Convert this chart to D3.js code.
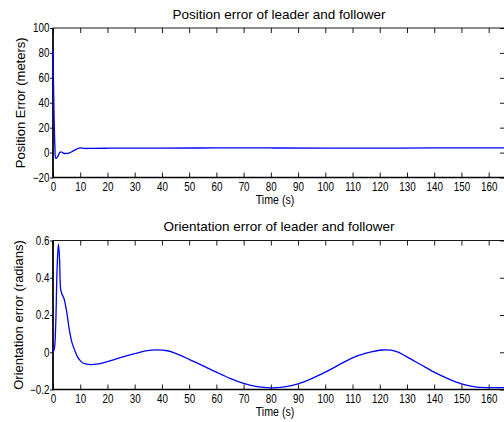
<!DOCTYPE html>
<html><head><meta charset="utf-8">
<script src="https://cdn.jsdelivr.net/npm/d3@7"></script>
<style>
html,body{margin:0;padding:0;background:#fff;}
svg{display:block;}
text{font-family:"Liberation Sans",Arial,Helvetica,sans-serif;fill:#000;}
</style></head>
<body>
<svg id="chart" width="504" height="422"></svg>
<script>
// ---- data ----
const timeDomain = [0, 166];
const xTicks = [0,10,20,30,40,50,60,70,80,90,100,110,120,130,140,150,160];

const posTitle = "Position error of leader and follower";
const posYLabel = "Position Error (meters)";
const posYTicks = [-20,0,20,40,60,80,100];
const posTime = [0,0.3,0.7,1,1.5,2,2.5,3,3.5,4,5,6,7,8,9,10,11,12,14,20,30,40,60,80,100,120,140,166];
const posErr  = [82,40,5,-4.5,-4,-2,0,0.6,0,-0.6,-0.7,-0.2,0.8,2,3.2,3.8,3.5,3.3,3.4,3.5,3.6,3.6,3.7,3.7,3.6,3.6,3.7,3.7];

const oriTitle = "Orientation error of leader and follower";
const oriYLabel = "Orientation error (radians)";
const oriYTicks = [-0.2,0,0.2,0.4,0.6];
const oriTime = [0,0.5,1,1.5,2,2.4,2.8,3.2,4,5,6,7,8,9,10,11,12,14,16,18,20,25,30,34,38,42,45,50,55,60,65,70,75,80,85,90,95,100,105,110,115,121,126,130,135,140,145,150,155,160,163,166];
const oriErr  = [0,0.02,0.15,0.45,0.58,0.5,0.34,0.315,0.29,0.22,0.12,0.05,0.01,-0.025,-0.045,-0.058,-0.063,-0.066,-0.064,-0.058,-0.05,-0.028,-0.008,0.007,0.013,0.008,-0.006,-0.038,-0.072,-0.107,-0.14,-0.167,-0.185,-0.191,-0.186,-0.17,-0.142,-0.107,-0.068,-0.03,-0.005,0.012,0.005,-0.025,-0.066,-0.107,-0.142,-0.17,-0.186,-0.19,-0.19,-0.19];

const xLabel = "Time (s)";

// ---- drawing ----
const svg = d3.select("#chart");
const left = 53, right = 505;

function panel(cfg){
  const {top, bottom, yDomain, yTicks, fmt, times, vals, title, ylabel} = cfg;
  const x = d3.scaleLinear().domain(timeDomain).range([left, right]);
  const y = d3.scaleLinear().domain(yDomain).range([bottom, top]);
  const g = svg.append("g");

  // frame
  g.append("rect").attr("x",left).attr("y",top).attr("width",right-left).attr("height",bottom-top)
    .attr("fill","none").attr("stroke","#000").attr("stroke-width",0.9);

  // bottom axis (inward ticks)
  const xb = g.append("g").attr("transform",`translate(0,${bottom})`)
    .call(d3.axisBottom(x).tickValues(xTicks).tickSize(-5).tickPadding(4.5).tickFormat(d3.format("d")));
  // top ticks
  g.append("g").attr("transform",`translate(0,${top})`)
    .call(d3.axisTop(x).tickValues(xTicks).tickSize(-5).tickFormat(""));
  // left axis (short outward ticks)
  const yl = g.append("g").attr("transform",`translate(${left},0)`)
    .call(d3.axisLeft(y).tickValues(yTicks).tickSize(3).tickPadding(1).tickFormat(fmt));
  // right ticks (inward)
  g.append("g").attr("transform",`translate(${right},0)`)
    .call(d3.axisRight(y).tickValues(yTicks).tickSize(-5).tickFormat(""));

  g.selectAll(".domain").remove();
  g.selectAll(".tick line").attr("stroke","#000").attr("stroke-width",0.9);
  g.selectAll(".tick text").attr("font-size",12).attr("fill","#000")
    .attr("font-family",'"Liberation Sans",Arial,sans-serif');
  xb.selectAll(".tick text").attr("transform","scale(0.82,1)");
  yl.selectAll(".tick text").attr("x",-3.5/0.82).attr("transform","scale(0.82,1)");

  // thicker left and bottom axis lines
  g.append("line").attr("x1",left).attr("x2",left).attr("y1",top).attr("y2",bottom+0.75)
    .attr("stroke","#000").attr("stroke-width",1.6);
  g.append("line").attr("x1",left).attr("x2",right).attr("y1",bottom).attr("y2",bottom)
    .attr("stroke","#000").attr("stroke-width",1.4);

  // line
  const line = d3.line().x((d,i)=>x(times[i])).y(d=>y(d)).curve(d3.curveCatmullRom.alpha(0.5));
  g.append("path").datum(vals).attr("d",line).attr("fill","none")
    .attr("stroke","#0000ff").attr("stroke-width",1.3);

  // title
  g.append("text").attr("x",(left+right)/2).attr("y",top-9.5).attr("text-anchor","middle")
    .attr("font-size",13.5).text(title);
  // x label
  g.append("text").attr("transform",`translate(275,${bottom+26}) scale(0.82,1)`)
    .attr("text-anchor","middle").attr("font-size",13).text(xLabel);
  // y label
  g.append("text").attr("transform",`translate(${cfg.ylx},${(top+bottom)/2}) rotate(-90)`)
    .attr("text-anchor","middle").attr("font-size",13).text(ylabel);
}

panel({top:28, bottom:177.5, yDomain:[-20,100], yTicks:posYTicks, fmt:d3.format("d"),
  times:posTime, vals:posErr, title:posTitle, ylabel:posYLabel, ylx:25});
panel({top:240.5, bottom:389.5, yDomain:[-0.2,0.6], yTicks:oriYTicks, fmt:d=> d===0?"0":d3.format(".1f")(d),
  times:oriTime, vals:oriErr, title:oriTitle, ylabel:oriYLabel, ylx:23});
</script>
</body></html>
